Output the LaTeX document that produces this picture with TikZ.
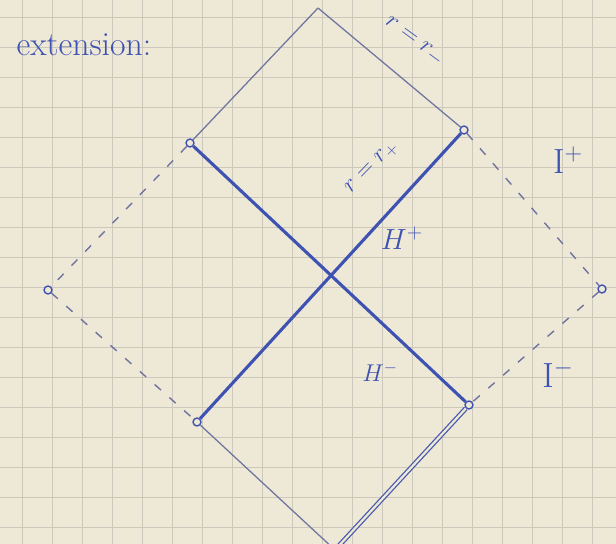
\documentclass[tikz,border=0pt]{standalone}
\usepackage{amsmath}
\usetikzlibrary{positioning,calc}
\definecolor{papercolor}{RGB}{238,232,214}
\definecolor{gridcolor}{RGB}{204,200,188}
\definecolor{inkcolor}{RGB}{62,82,178}
\definecolor{pencolor}{RGB}{112,116,158}

\begin{document}
\begin{tikzpicture}[
  vertex/.style={circle, draw=inkcolor, line width=1pt, fill=papercolor, inner sep=2pt},
  horizon/.style={draw=inkcolor, line width=2.2pt},
  boundary/.style={draw=pencolor, line width=0.9pt},
  infinity/.style={draw=pencolor, line width=1pt, dash pattern=on 6pt off 8pt},
  gridline/.style={draw=gridcolor, line width=0.7pt},
  handtext/.style={text=inkcolor, inner sep=0pt}
]
% paper
\fill[papercolor] (0,0) rectangle (15.4,-13.6);
\clip (0,0) rectangle (15.4,-13.6);
\foreach \gx in {0.55,1.3,...,15.4} {
  \draw[gridline] (\gx,0) -- (\gx,-13.6);
}
\foreach \gy in {-0.425,-1.175,...,-13.6} {
  \draw[gridline] (0,\gy) -- (15.4,\gy);
}

% corners of the diagram
\coordinate (top) at (7.95,-0.2);
\coordinate (bot) at (8.375,-13.75);
\node[vertex] (ul) at (4.75,-3.575) {};
\node[vertex] (ur) at (11.6,-3.25) {};
\node[vertex] (lft) at (1.2,-7.25) {};
\node[vertex] (rgt) at (15.05,-7.225) {};
\node[vertex] (ll) at (4.925,-10.55) {};
\node[vertex] (lr) at (11.725,-10.125) {};

% boundaries
\draw[boundary] (top) -- (ul);
\draw[boundary] (top) -- (ur);
\draw[boundary] (ll) -- (bot);
\draw[boundary, double=papercolor, double distance=1.6pt, draw=inkcolor!80!pencolor] (lr) -- (bot);
\draw[infinity] (ul) -- (lft);
\draw[infinity] (lft) -- (ll);
\draw[infinity] (ur) -- (rgt);
\draw[infinity] (rgt) -- (lr);

% horizons
\draw[horizon] (ul) -- (lr);
\draw[horizon] (ll) -- (ur);

% labels
\node[handtext, font=\fontsize{24}{26}\selectfont] (title) at (2.1,-1.125) {extension:};
\node[handtext, rotate=-36, font=\fontsize{19}{21}\selectfont] (rminus) at (10.35,-1.05) {$r=r_-$};
\node[handtext, rotate=46, font=\fontsize{18}{20}\selectfont] (rplus) at (9.3,-4.2) {$r=r_+$};
\node[handtext, font=\fontsize{21}{23}\selectfont] (hplus) at (10.05,-5.95) {$H^+$};
\node[handtext, font=\fontsize{18}{20}\selectfont] (hminus) at (9.5,-9.3) {$H^-$};
\node[handtext, font=\fontsize{26}{28}\selectfont] (iplus) at (14.2,-4.0) {$\mathrm{I}^+$};
\node[handtext, font=\fontsize{24}{26}\selectfont] (iminus) at (13.95,-9.35) {$\mathrm{I}^-$};
\end{tikzpicture}
\end{document}
